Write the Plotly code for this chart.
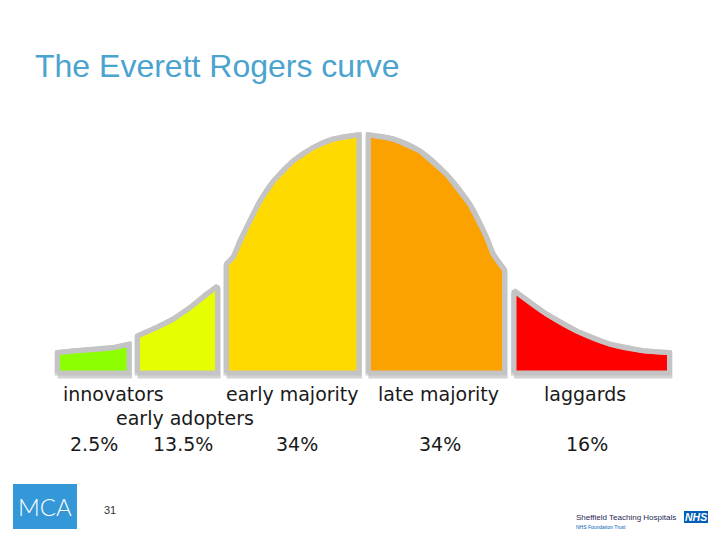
import plotly.graph_objects as go

# ---------------- data ----------------
categories = ["innovators", "early adopters", "early majority", "late majority", "laggards"]
shares = ["2.5%", "13.5%", "34%", "34%", "16%"]

# top edge of each curve segment: x in spread units (0 = peak), y = curve height
innov_x = [-2.143, -2.021, -1.881, -1.741, -1.643]
innov_y = [0.034, 0.037, 0.039, 0.043, 0.048]

adopt_x = [-1.584, -1.450, -1.334, -1.217, -1.100, -1.024]
adopt_y = [0.062, 0.076, 0.090, 0.109, 0.132, 0.145]

early_x = [-0.962, -0.916, -0.867, -0.820, -0.727, -0.634, -0.494, -0.355, -0.215, -0.035]
early_y = [0.182, 0.193, 0.221, 0.243, 0.287, 0.320, 0.354, 0.376, 0.390, 0.397]

late_x = [0.031, 0.205, 0.392, 0.578, 0.741, 0.858, 0.904, 0.983]
late_y = [0.397, 0.390, 0.370, 0.331, 0.281, 0.226, 0.198, 0.172]

lag_x = [1.049, 1.278, 1.487, 1.720, 1.953, 2.136]
lag_y = [0.1375, 0.098, 0.070, 0.048, 0.037, 0.034]

segments = [
    (innov_x, innov_y, "#8CFF00"),
    (adopt_x, adopt_y, "#E6FF00"),
    (early_x, early_y, "#FFDA00"),
    (late_x, late_y, "#FBA100"),
    (lag_x, lag_y, "#FF0000"),
]

OUTLINE = "#C4C4C4"
OFF = 8               # page body margin of the browser
W, H = 720 - OFF, 540 - OFF

fig = go.Figure()

for xs, ys, col in segments:
    px = [xs[0]] + list(xs) + [xs[-1], xs[0]]
    py = [0.0] + list(ys) + [0.0, 0.0]
    # soft shadow under the outline
    fig.add_trace(go.Scatter(x=px, y=[v - 0.004 for v in py], mode="lines",
                             line=dict(color="#D2D2D2", width=6),
                             hoverinfo="skip", showlegend=False))
    fig.add_trace(go.Scatter(x=px, y=py, mode="lines", fill="toself",
                             fillcolor=col, line=dict(color=OUTLINE, width=5),
                             hoverinfo="skip", showlegend=False))
    # smooth top edge drawn over the polygon edge
    fig.add_trace(go.Scatter(x=list(xs), y=list(ys), mode="lines",
                             line=dict(color=OUTLINE, width=5, shape="spline", smoothing=1),
                             hoverinfo="skip", showlegend=False))

# ---------------- text labels ----------------
def xp(px):
    return (px - OFF) / W

def yp(py):
    return 1 - (py - OFF) / H

lab_font = dict(family="DejaVu Sans", size=19, color="#1a1a1a")
name_pos = [(113.5, 394), (184.5, 418), (292, 394), (438.5, 394), (585, 394)]
pct_pos = [(94, 444), (183, 444), (296.5, 444), (440, 444), (586.5, 444)]

annotations = []
for name, (x, y) in zip(categories, name_pos):
    annotations.append(dict(text=name, x=xp(x), y=yp(y), xref="paper", yref="paper",
                            xanchor="center", yanchor="middle", showarrow=False,
                            font=lab_font))
for pct, (x, y) in zip(shares, pct_pos):
    annotations.append(dict(text=pct, x=xp(x), y=yp(y), xref="paper", yref="paper",
                            xanchor="center", yanchor="middle", showarrow=False,
                            font=lab_font))

# title
annotations.append(dict(text="The Everett Rogers curve", x=xp(33), y=yp(66),
                        xref="paper", yref="paper", xanchor="left", yanchor="middle",
                        showarrow=False,
                        font=dict(family="Liberation Sans", size=32, color="#4BA3CF")))
# MCA logo text
annotations.append(dict(text="MCA", x=xp(45), y=yp(506), xref="paper", yref="paper",
                        xanchor="center", yanchor="middle", showarrow=False,
                        font=dict(family="Lato", size=24, color="white", weight=300)))
# page number
annotations.append(dict(text="31", x=xp(110), y=yp(510), xref="paper", yref="paper",
                        xanchor="center", yanchor="middle", showarrow=False,
                        font=dict(family="Liberation Sans", size=11, color="#333333")))
# NHS logo
annotations.append(dict(text="Sheffield Teaching Hospitals", x=xp(574), y=yp(517),
                        xref="paper", yref="paper", xanchor="left", yanchor="middle",
                        showarrow=False,
                        font=dict(family="Liberation Sans", size=8, color="#1F2A55")))
annotations.append(dict(text="<b><i>NHS</i></b>", x=xp(696), y=yp(517), xref="paper",
                        yref="paper", xanchor="center", yanchor="middle", showarrow=False,
                        font=dict(family="Liberation Sans", size=10.5, color="white")))
annotations.append(dict(text="NHS Foundation Trust", x=xp(574), y=yp(527),
                        xref="paper", yref="paper", xanchor="left", yanchor="middle",
                        showarrow=False,
                        font=dict(family="Liberation Sans", size=5, color="#005EB8")))

shapes = [
    dict(type="rect", xref="paper", yref="paper", x0=xp(13), x1=xp(77), y0=yp(529), y1=yp(484),
         fillcolor="#3497D8", line=dict(width=0), layer="below"),
    dict(type="rect", xref="paper", yref="paper", x0=xp(684), x1=xp(708), y0=yp(523), y1=yp(511),
         fillcolor="#005EB8", line=dict(width=0), layer="below"),
]

# axis ranges so the peak sits at page px 364 and the baseline at page px 373
x_range = [-(364 - OFF) / 143, (W - (364 - OFF)) / 143]
y_range = [-(H - (373 - OFF)) / 600, (373 - OFF) / 600]

fig.update_layout(
    width=W, height=H,
    margin=dict(l=0, r=0, t=0, b=0),
    paper_bgcolor="white", plot_bgcolor="white",
    xaxis=dict(range=x_range, visible=False, fixedrange=True),
    yaxis=dict(range=y_range, visible=False, fixedrange=True),
    annotations=annotations, shapes=shapes, showlegend=False,
)

fig.write_html("out.html")
